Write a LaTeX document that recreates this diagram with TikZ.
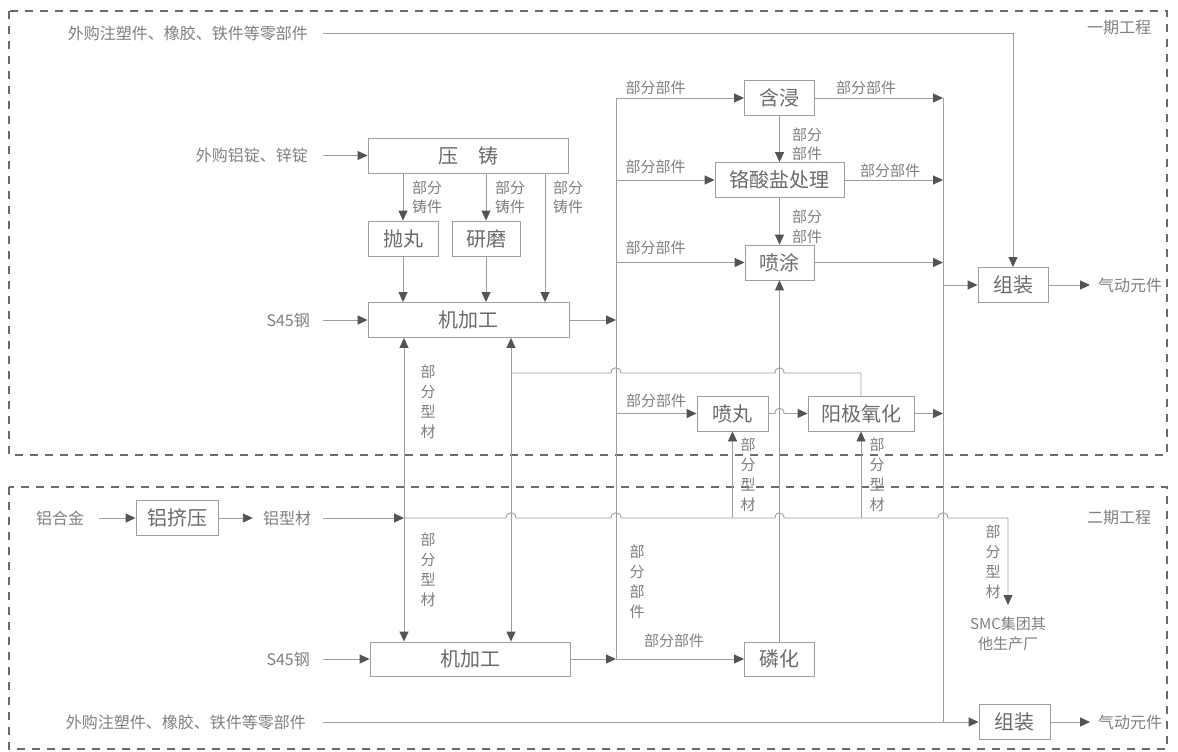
\documentclass[tikz,border=0pt]{standalone}
\usepackage{fontspec}
\setmainfont{Noto Sans CJK SC}
\usetikzlibrary{arrows.meta}
\definecolor{linec}{gray}{0.62}
\definecolor{boxc}{gray}{0.62}
\definecolor{txtc}{gray}{0.42}
\definecolor{lblc}{gray}{0.5}
\definecolor{tipc}{gray}{0.33}
\definecolor{dashc}{gray}{0.42}
\begin{document}
\begin{tikzpicture}[x=1pt,y=-1pt,
  proc/.style={draw=boxc, line width=0.9pt, inner sep=0pt, minimum height=35pt, text=txtc, font=\fontsize{20}{24}\selectfont},
  lbl/.style={text=lblc, font=\fontsize{15}{19.5}\selectfont, inner sep=0pt, align=center},
  vlbl/.style={text=lblc, font=\fontsize{15}{20}\selectfont, inner sep=0pt, align=center},
  src/.style={text=lblc, font=\fontsize{16}{20}\selectfont, inner sep=0pt},
  ln/.style={draw=linec, line width=0.9pt},
  arr/.style={ln, -{Triangle[length=10pt,width=9pt,color=tipc]}},
  darr/.style={ln, {Triangle[length=10pt,width=9pt,color=tipc]}-{Triangle[length=10pt,width=9pt,color=tipc]}},
  frame/.style={draw=dashc, line width=1.6pt, dash pattern=on 8pt off 7pt}
]
\useasboundingbox (0,0) rectangle (1178,752);
\fill[white] (0,0) rectangle (1178,752);
% frames
\draw[frame] (9,11) rectangle (1167,455);
\draw[frame] (9,487) rectangle (1167,749);
\node[src] (phase1) at (1119,28) {一期工程};
\node[src] (phase2) at (1119,518) {二期工程};

% sources and outputs
\node[src, anchor=east] (srcT) at (308,33) {外购注塑件、橡胶、铁件等零部件};
\node[src, anchor=east] (srcAl) at (308,155.5) {外购铝锭、锌锭};
\node[src, anchor=east] (srcS1) at (310,320) {S45钢};
\node[src] (srcAlloy) at (60,518) {铝合金};
\node[src] (alprof) at (287,518) {铝型材};
\node[src, anchor=east] (srcS2) at (310,659) {S45钢};
\node[src, anchor=east] (srcB) at (306,722) {外购注塑件、橡胶、铁件等零部件};
\node[src, anchor=west] (out1) at (1098,285) {气动元件};
\node[src, anchor=west] (out2) at (1098,722) {气动元件};
\node[lbl] (smc) at (1008,634) {SMC集团其\\他生产厂};

% process boxes
\node[proc, minimum width=70pt] (hanjin) at (779.5,98) {含浸};
\node[proc, minimum width=129pt] (gesuan) at (779.5,180) {铬酸盐处理};
\node[proc, minimum width=69pt] (pentu) at (779.5,262.5) {喷涂};
\node[proc, minimum width=200pt] (yazhu) at (468,155.5) {压　铸};
\node[proc, minimum width=70pt] (paowan) at (403,238.5) {抛丸};
\node[proc, minimum width=68pt] (yanmo) at (486,238.5) {研磨};
\node[proc, minimum width=201pt] (jjg1) at (468.5,320) {机加工};
\node[proc, minimum width=70pt] (zz1) at (1013,285) {组装};
\node[proc, minimum width=71pt] (penwan) at (732.5,413.5) {喷丸};
\node[proc, minimum width=106pt] (yangji) at (861,413.5) {阳极氧化};
\node[proc, minimum width=82pt] (lvjy) at (177,518) {铝挤压};
\node[proc, minimum width=200pt, minimum height=34pt] (jjg2) at (470,659) {机加工};
\node[proc, minimum width=70pt, minimum height=34pt] (linhua) at (779.5,659) {磷化};
\node[proc, minimum width=71pt] (zz2) at (1014.5,722) {组装};

% helper coordinates
\coordinate (sT) at (323,33);
\coordinate (cT) at (1013,33);
\coordinate (sAl) at (323,155.5);
\coordinate (x545) at (545,0);
\coordinate (x404) at (404,0);
\coordinate (x511) at (511,0);
\coordinate (sS1) at (323,320);
\coordinate (sS2) at (323,659);
\coordinate (sB) at (323,722);
\coordinate (vtop) at (616,98);
\coordinate (vbot) at (616,659);
\coordinate (rtop) at (943,98);
\coordinate (rbot) at (943,722);
\coordinate (s518) at (323,518);
\coordinate (j404) at (404,518);
\coordinate (c1008) at (1008,518);
\coordinate (smcin) at (1008,605);
\coordinate (j511) at (511,373);
\coordinate (c861) at (861,373);

% top row
\draw[arr] (sT) -- (cT) -- (zz1.north);
\draw[arr] (sAl) -- (yazhu.west);
\draw[arr] (yazhu.south -| paowan.north) -- (paowan.north);
\draw[arr] (yazhu.south -| yanmo.north) -- (yanmo.north);
\draw[arr] (yazhu.south -| x545) -- (jjg1.north -| x545);
\draw[arr] (paowan.south) -- (paowan.south |- jjg1.north);
\draw[arr] (yanmo.south) -- (yanmo.south |- jjg1.north);
\node[lbl] (l1) at (427,197.5) {部分\\铸件};
\node[lbl] (l2) at (510,197.5) {部分\\铸件};
\node[lbl] (l3) at (568,197.5) {部分\\铸件};
\draw[arr] (sS1) -- (jjg1.west);
\draw[arr] (jjg1.east) -- (jjg1.east -| vtop);

% left vertical distribution line
\draw[ln] (vtop) -- (vbot);
\draw[arr] (vtop) -- (hanjin.west);
\draw[arr] (vtop |- gesuan.west) -- (gesuan.west);
\draw[arr] (vtop |- pentu.west) -- (pentu.west);
\draw[arr] (vtop |- penwan.west) -- (penwan.west);
\draw[arr] (vtop |- linhua.west) -- (linhua.west);
\node[lbl] (l4) at (655.5,88) {部分部件};
\node[lbl] (l5) at (655.5,167) {部分部件};
\node[lbl] (l6) at (655.5,248) {部分部件};
\node[lbl] (l7) at (656,401) {部分部件};
\node[lbl] (l8) at (674,641) {部分部件};
\node[vlbl] (l9) at (637,582) {部\\分\\部\\件};

% surface chain
\draw[arr] (hanjin.south) -- (gesuan.north);
\draw[arr] (gesuan.south) -- (pentu.north);
\draw[arr] (linhua.north) -- (pentu.south);
\node[lbl] (l10) at (807,144.5) {部分\\部件};
\node[lbl] (l11) at (807,227) {部分\\部件};

% right collecting line
\draw[ln] (rtop) -- (rbot);
\draw[arr] (hanjin.east) -- (hanjin.east -| rtop);
\draw[arr] (gesuan.east) -- (gesuan.east -| rtop);
\draw[arr] (pentu.east) -- (pentu.east -| rtop);
\draw[arr] (yangji.east) -- (yangji.east -| rtop);
\node[lbl] (l12) at (866,88) {部分部件};
\node[lbl] (l13) at (890,171) {部分部件};
\draw[arr] (rtop |- zz1.west) -- (zz1.west);
\draw[arr] (zz1.east) -- ([xshift=-8pt]out1.west);

% shot blasting -> anodising (hop)
\draw[arr] (penwan.east) -- (775,413.5) .. controls (775,406.5) and (784,406.5) .. (784,413.5) -- (yangji.west);

% line 373 from anodising to machining
\draw[ln] (j511) -- (611,373) .. controls (611,366) and (621,366) .. (621,373)
  -- (775,373) .. controls (775,366) and (784,366) .. (784,373) -- (c861) -- (yangji.north);

% double arrows between machining
\draw[darr] (jjg1.south -| x404) -- (jjg2.north -| x404);
\draw[darr] (jjg1.south -| x511) -- (jjg2.north -| x511);
\node[vlbl] (l14) at (428,402) {部\\分\\型\\材};
\node[vlbl] (l15) at (428,570) {部\\分\\型\\材};

% aluminium profile line
\draw[arr] ([xshift=15pt]srcAlloy.east) -- (lvjy.west);
\draw[arr] (lvjy.east) -- ([xshift=-10pt]alprof.west);
\draw[arr] (s518) -- (j404);
\draw[arr] (j404) -- (506,518) .. controls (506,511) and (516,511) .. (516,518)
  -- (611,518) .. controls (611,511) and (621,511) .. (621,518)
  -- (775,518) .. controls (775,511) and (784,511) .. (784,518)
  -- (938,518) .. controls (938,511) and (948,511) .. (948,518)
  -- (c1008) -- (smcin);
\draw[arr] (penwan.south |- j404) -- (penwan.south);
\draw[arr] (yangji.south |- j404) -- (yangji.south);
\node[vlbl] (l16) at (748,475) {部\\分\\型\\材};
\node[vlbl] (l17) at (877,475) {部\\分\\型\\材};
\node[vlbl] (l18) at (993,562) {部\\分\\型\\材};

% bottom machining and assembly
\draw[arr] (sS2) -- (jjg2.west);
\draw[arr] (jjg2.east) -- (jjg2.east -| vbot);
\draw[arr] (sB) -- (zz2.west);
\draw[arr] (zz2.east) -- ([xshift=-8pt]out2.west);
\end{tikzpicture}
\end{document}
